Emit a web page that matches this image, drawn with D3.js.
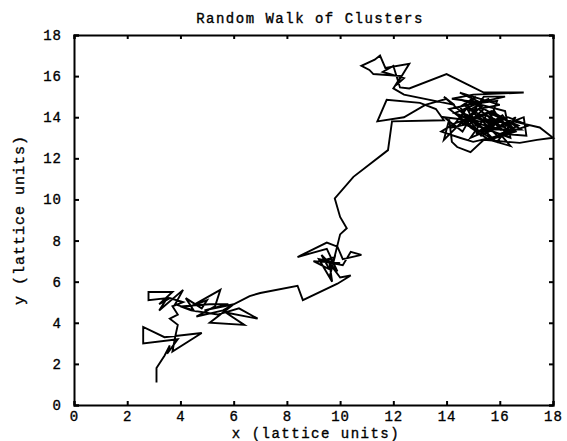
<!DOCTYPE html>
<html>
<head>
<meta charset="utf-8">
<script src="https://cdn.jsdelivr.net/npm/d3@7"></script>
<style>
  body { margin: 0; background: #fff; }
  text { font-family: "Liberation Mono", "DejaVu Sans Mono", monospace; fill: #000; stroke: #000; stroke-width: 0.35px; }
</style>
</head>
<body>
<div id="chart"></div>
<script>
// walk of the cluster centre, in lattice units
const walkX = [
  3.1, 3.1, 3.4, 3.6, 3.5, 3.9, 2.6, 2.6, 3.4, 4.8, 3.7, 3.8, 3.9, 3.6, 3.9, 3.7,
  4.1, 3.6, 3.2, 3.7, 2.8, 2.8, 3.5, 3.2, 4.1, 3.8, 4.5, 4.2, 4.8, 5.0, 4.4, 5.5,
  5.3, 4.6, 5.6, 6.0, 5.1, 6.4, 5.7, 6.9, 6.2, 5.4, 4.4, 4.0, 5.1, 5.8, 4.9, 6.0,
  6.6, 7.0, 8.4, 8.6, 9.9, 10.4, 10.0, 9.6, 9.7, 9.2, 10.0, 9.0, 9.6, 9.3, 9.9, 9.5,
  8.4, 9.5, 9.9, 10.1, 10.8, 10.4, 10.1, 9.3, 9.8, 9.6, 10.0, 10.25, 10.0, 9.8, 10.5, 11.8,
  11.95, 13.9, 13.6, 13.0, 11.75, 11.4, 12.4, 13.2, 14.0, 14.6, 13.9, 14.3, 12.4, 12.0, 12.3, 11.25,
  11.1, 10.8, 11.3, 11.5, 11.7, 12.6, 12.1, 12.4, 11.6, 12.0, 12.25, 12.6, 14.0, 15.4, 16.9, 15.0,
  14.2, 15.3, 14.5, 16.0, 14.8, 15.6, 14.3, 15.2, 13.9, 14.6, 15.0, 15.8, 14.9, 15.5, 16.3, 15.2,
  16.1, 16.6, 15.6, 16.4, 16.0, 17.0, 16.9, 16.5, 17.5, 18.0, 17.4, 16.75, 15.4, 14.9, 14.4, 14.2,
  14.1, 13.9, 14.6, 15.3, 14.4, 16.2, 16.4, 15.1, 14.7, 15.9, 15.5, 16.8, 15.7, 14.8, 15.4, 16.2,
  14.1, 14.9, 15.9, 16.6, 15.3, 14.5, 15.1, 14.2, 15.6, 16.3, 15.0, 14.5, 13.8, 14.3, 15.0, 14.6,
  15.2, 14.7, 15.8, 15.1, 16.1, 15.4, 14.9, 16.0, 15.6, 16.7, 15.9, 15.2, 14.8, 15.5, 16.2, 15.8,
  14.6, 15.3, 16.0, 16.5, 15.7, 15.1, 14.4, 14.9, 15.6, 16.4, 17.1, 16.3, 15.5, 14.8, 15.2, 15.9
]
const walkY = [
  1.1, 1.8, 2.4, 2.9, 2.5, 3.2, 3.0, 3.8, 3.3, 3.5, 2.6, 3.3, 3.9, 4.2, 4.4, 4.8,
  5.0, 5.2, 4.9, 5.5, 5.5, 5.1, 5.2, 4.6, 5.6, 4.9, 4.6, 5.2, 4.7, 5.1, 4.8, 5.6,
  4.8, 4.3, 4.6, 4.9, 4.0, 3.9, 4.5, 4.2, 4.7, 4.4, 4.6, 4.8, 4.9, 4.9, 4.6, 4.9,
  5.3, 5.45, 5.8, 5.1, 5.9, 6.3, 6.2, 6.9, 6.0, 7.1, 6.9, 7.0, 6.6, 7.3, 6.5, 7.6,
  7.2, 7.9, 7.7, 7.1, 7.3, 7.45, 6.8, 7.0, 7.2, 6.2, 8.3, 8.6, 9.15, 10.05, 11.1, 12.4,
  13.8, 13.85, 14.4, 14.7, 14.85, 13.8, 14.0, 14.6, 14.9, 14.2, 15.0, 14.6, 15.1, 15.4, 16.0, 16.1,
  16.3, 16.5, 16.8, 17.0, 16.4, 16.6, 15.55, 15.9, 16.2, 16.5, 15.45, 15.4, 16.1, 15.2, 15.2, 15.1,
  14.9, 14.7, 15.2, 14.6, 14.3, 14.9, 14.2, 13.8, 14.0, 13.3, 14.2, 13.5, 13.0, 14.1, 13.6, 13.3,
  14.1, 13.3, 12.9, 12.6, 13.2, 13.1, 14.0, 13.8, 13.5, 13.0, 12.9, 12.75, 12.9, 12.3, 12.55, 12.8,
  13.9, 12.9, 13.8, 14.5, 14.9, 14.3, 13.0, 13.6, 14.6, 14.8, 13.4, 13.4, 14.3, 13.9, 15.0, 15.0,
  14.4, 13.6, 12.8, 14.0, 13.1, 14.5, 15.0, 13.5, 13.9, 13.2, 12.8, 13.0, 13.3, 13.7, 14.0, 14.2,
  13.6, 14.1, 13.7, 13.2, 13.9, 14.4, 13.8, 13.4, 14.2, 13.6, 13.1, 14.0, 14.5, 13.9, 13.5, 14.3,
  13.7, 13.3, 13.9, 13.4, 13.0, 13.8, 14.1, 13.5, 12.9, 13.3, 13.6, 14.0, 13.4, 13.9, 14.4, 13.7
]
const xTicks = [0, 2, 4, 6, 8, 10, 12, 14, 16, 18]
const yTicks = [0, 2, 4, 6, 8, 10, 12, 14, 16, 18]

function drawWalk() {
  const width = 567
  const height = 441
  const margin = {top: 35, right: 14, bottom: 36, left: 74}

  const svg = d3.select("#chart")
    .append("svg")
      .attr("width", width)
      .attr("height", height)

  const x = d3.scaleLinear().domain([0, 18]).range([margin.left, width - margin.right])
  const y = d3.scaleLinear().domain([0, 18]).range([height - margin.bottom, margin.top])

  const points = walkX.map((d, i) => [d, walkY[i]])

  // the walk itself
  const line = d3.line().x(d => x(d[0])).y(d => y(d[1]))
  svg.append("path")
    .datum(points)
    .attr("d", line)
    .attr("fill", "none")
    .attr("stroke", "#000")
    .attr("stroke-width", 1.9)
    .attr("stroke-linejoin", "miter")

  // axes, ticks pointing into the box on all four sides
  const tickLen = 4
  const bottom = svg.append("g").attr("transform", `translate(0,${y(0)})`)
    .call(d3.axisBottom(x).tickValues(xTicks).tickSize(-tickLen).tickPadding(6))
  const top = svg.append("g").attr("transform", `translate(0,${y(18)})`)
    .call(d3.axisTop(x).tickValues(xTicks).tickSize(-tickLen).tickFormat(""))
  const left = svg.append("g").attr("transform", `translate(${x(0)},0)`)
    .call(d3.axisLeft(y).tickValues(yTicks).tickSize(-tickLen - 1).tickPadding(12))
  const right = svg.append("g").attr("transform", `translate(${x(18)},0)`)
    .call(d3.axisRight(y).tickValues(yTicks).tickSize(-tickLen).tickFormat(""))

  ;[bottom, top, left, right].forEach(g => {
    g.select(".domain").attr("stroke", "#000").attr("stroke-width", 2)
    g.selectAll(".tick line").attr("stroke", "#000").attr("stroke-width", 2)
    g.selectAll(".tick text")
      .style("font-family", '"Liberation Mono", monospace')
      .style("font-size", "14px")
      .style("letter-spacing", "1px")
  })

  // titles
  svg.append("text")
    .attr("x", 310)
    .attr("y", 23)
    .attr("text-anchor", "middle")
    .style("font-size", "14px")
    .style("letter-spacing", "1.5px")
    .text("Random Walk of Clusters")

  svg.append("text")
    .attr("x", 316)
    .attr("y", 438)
    .attr("text-anchor", "middle")
    .style("font-size", "14px")
    .style("letter-spacing", "1.5px")
    .text("x (lattice units)")

  svg.append("text")
    .attr("transform", `translate(24,${y(9)}) rotate(-90)`)
    .attr("text-anchor", "middle")
    .style("font-size", "15px")
    .style("letter-spacing", "1px")
    .text("y (lattice units)")
}

window.onload = function () {
  drawWalk()
}
</script>
</body>
</html>
